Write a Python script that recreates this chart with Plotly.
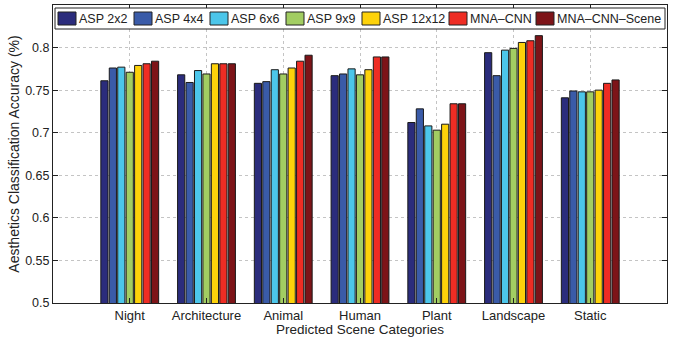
import plotly.graph_objects as go

categories = ["Night", "Architecture", "Animal", "Human", "Plant", "Landscape", "Static"]
series_names = ["ASP 2x2", "ASP 4x4", "ASP 6x6", "ASP 9x9", "ASP 12x12", "MNA\u2013CNN", "MNA\u2013CNN\u2013Scene"]
asp2 = [0.761, 0.768, 0.758, 0.767, 0.712, 0.794, 0.741]
asp4 = [0.776, 0.759, 0.760, 0.769, 0.728, 0.767, 0.749]
asp6 = [0.777, 0.773, 0.774, 0.775, 0.708, 0.797, 0.748]
asp9 = [0.771, 0.769, 0.769, 0.768, 0.703, 0.799, 0.748]
asp12 = [0.779, 0.781, 0.776, 0.774, 0.710, 0.806, 0.750]
mna = [0.781, 0.781, 0.784, 0.789, 0.734, 0.808, 0.758]
mna_scene = [0.784, 0.781, 0.791, 0.789, 0.734, 0.814, 0.762]
series_values = [asp2, asp4, asp6, asp9, asp12, mna, mna_scene]
colors = ["#2B2C7C", "#3A5BA8", "#4CC6EA", "#A2CD62", "#FDD20A", "#EE2D24", "#7D1418"]
y_ticks = [0.5, 0.55, 0.6, 0.65, 0.7, 0.75, 0.8]
y_ticktext = ["0.5", "0.55", "0.6", "0.65", "0.7", "0.75", "0.8"]

FONT = "Liberation Sans, Arial, sans-serif"
W, H = 673, 337
ML, MR, MT, MB = 53, 6, 5, 34
PW, PH = W - ML - MR, H - MT - MB

fig = go.Figure()
for name, vals, col in zip(series_names, series_values, colors):
    fig.add_trace(go.Bar(
        x=categories, y=vals, name=name, showlegend=False,
        marker=dict(color=col, line=dict(color="#1a1a1a", width=1)),
    ))

# Custom legend (boxed, single row, inside the top of the plot)
def px_x(p):
    return (p - ML) / PW

def px_y(p):
    return 1 - (p - MT) / PH

shapes = [dict(type="rect", xref="paper", yref="paper",
               x0=px_x(55), x1=px_x(665), y0=px_y(29), y1=px_y(8),
               line=dict(color="#222", width=1), fillcolor="white", layer="above")]
annotations = []
item_x = [58, 134, 210, 286, 362, 449, 536]
for name, col, x0 in zip(series_names, colors, item_x):
    shapes.append(dict(type="rect", xref="paper", yref="paper",
                       x0=px_x(x0), x1=px_x(x0 + 18), y0=px_y(25), y1=px_y(12),
                       line=dict(color="#222", width=1), fillcolor=col, layer="above"))
    annotations.append(dict(text=name, xref="paper", yref="paper",
                            x=px_x(x0 + 19), y=px_y(18.5), xanchor="left", yanchor="middle",
                            showarrow=False, font=dict(family=FONT, size=12.5, color="#222")))

fig.update_layout(
    width=W, height=H,
    margin=dict(l=ML, r=MR, t=MT, b=MB),
    plot_bgcolor="white", paper_bgcolor="white",
    barmode="group", bargap=0.23, bargroupgap=0.15,
    font=dict(family=FONT, size=12, color="#222"),
    showlegend=False,
    shapes=shapes, annotations=annotations,
    xaxis=dict(
        range=[-1, 7], showgrid=True, gridcolor="#c4c4c4", griddash="dot", gridwidth=1,
        showline=True, linecolor="#222", linewidth=1, mirror="ticks",
        ticks="inside", ticklen=5, tickcolor="#222",
        title=dict(text="Predicted Scene Categories", standoff=0, font=dict(size=13.5)),
        tickfont=dict(size=13),
    ),
    yaxis=dict(
        range=[0.5, 0.85], tickvals=y_ticks, ticktext=y_ticktext,
        showgrid=True, gridcolor="#c4c4c4", griddash="dot", gridwidth=1,
        showline=True, linecolor="#222", linewidth=1, mirror="ticks",
        ticks="inside", ticklen=5, tickcolor="#222", zeroline=False,
        title=dict(text="Aesthetics Classification Accuracy (%)", standoff=2, font=dict(size=14)),
        tickfont=dict(size=12.5),
    ),
)

fig.write_html("out.html", config={"displayModeBar": False},
               post_script="document.body.style.margin='0';")
